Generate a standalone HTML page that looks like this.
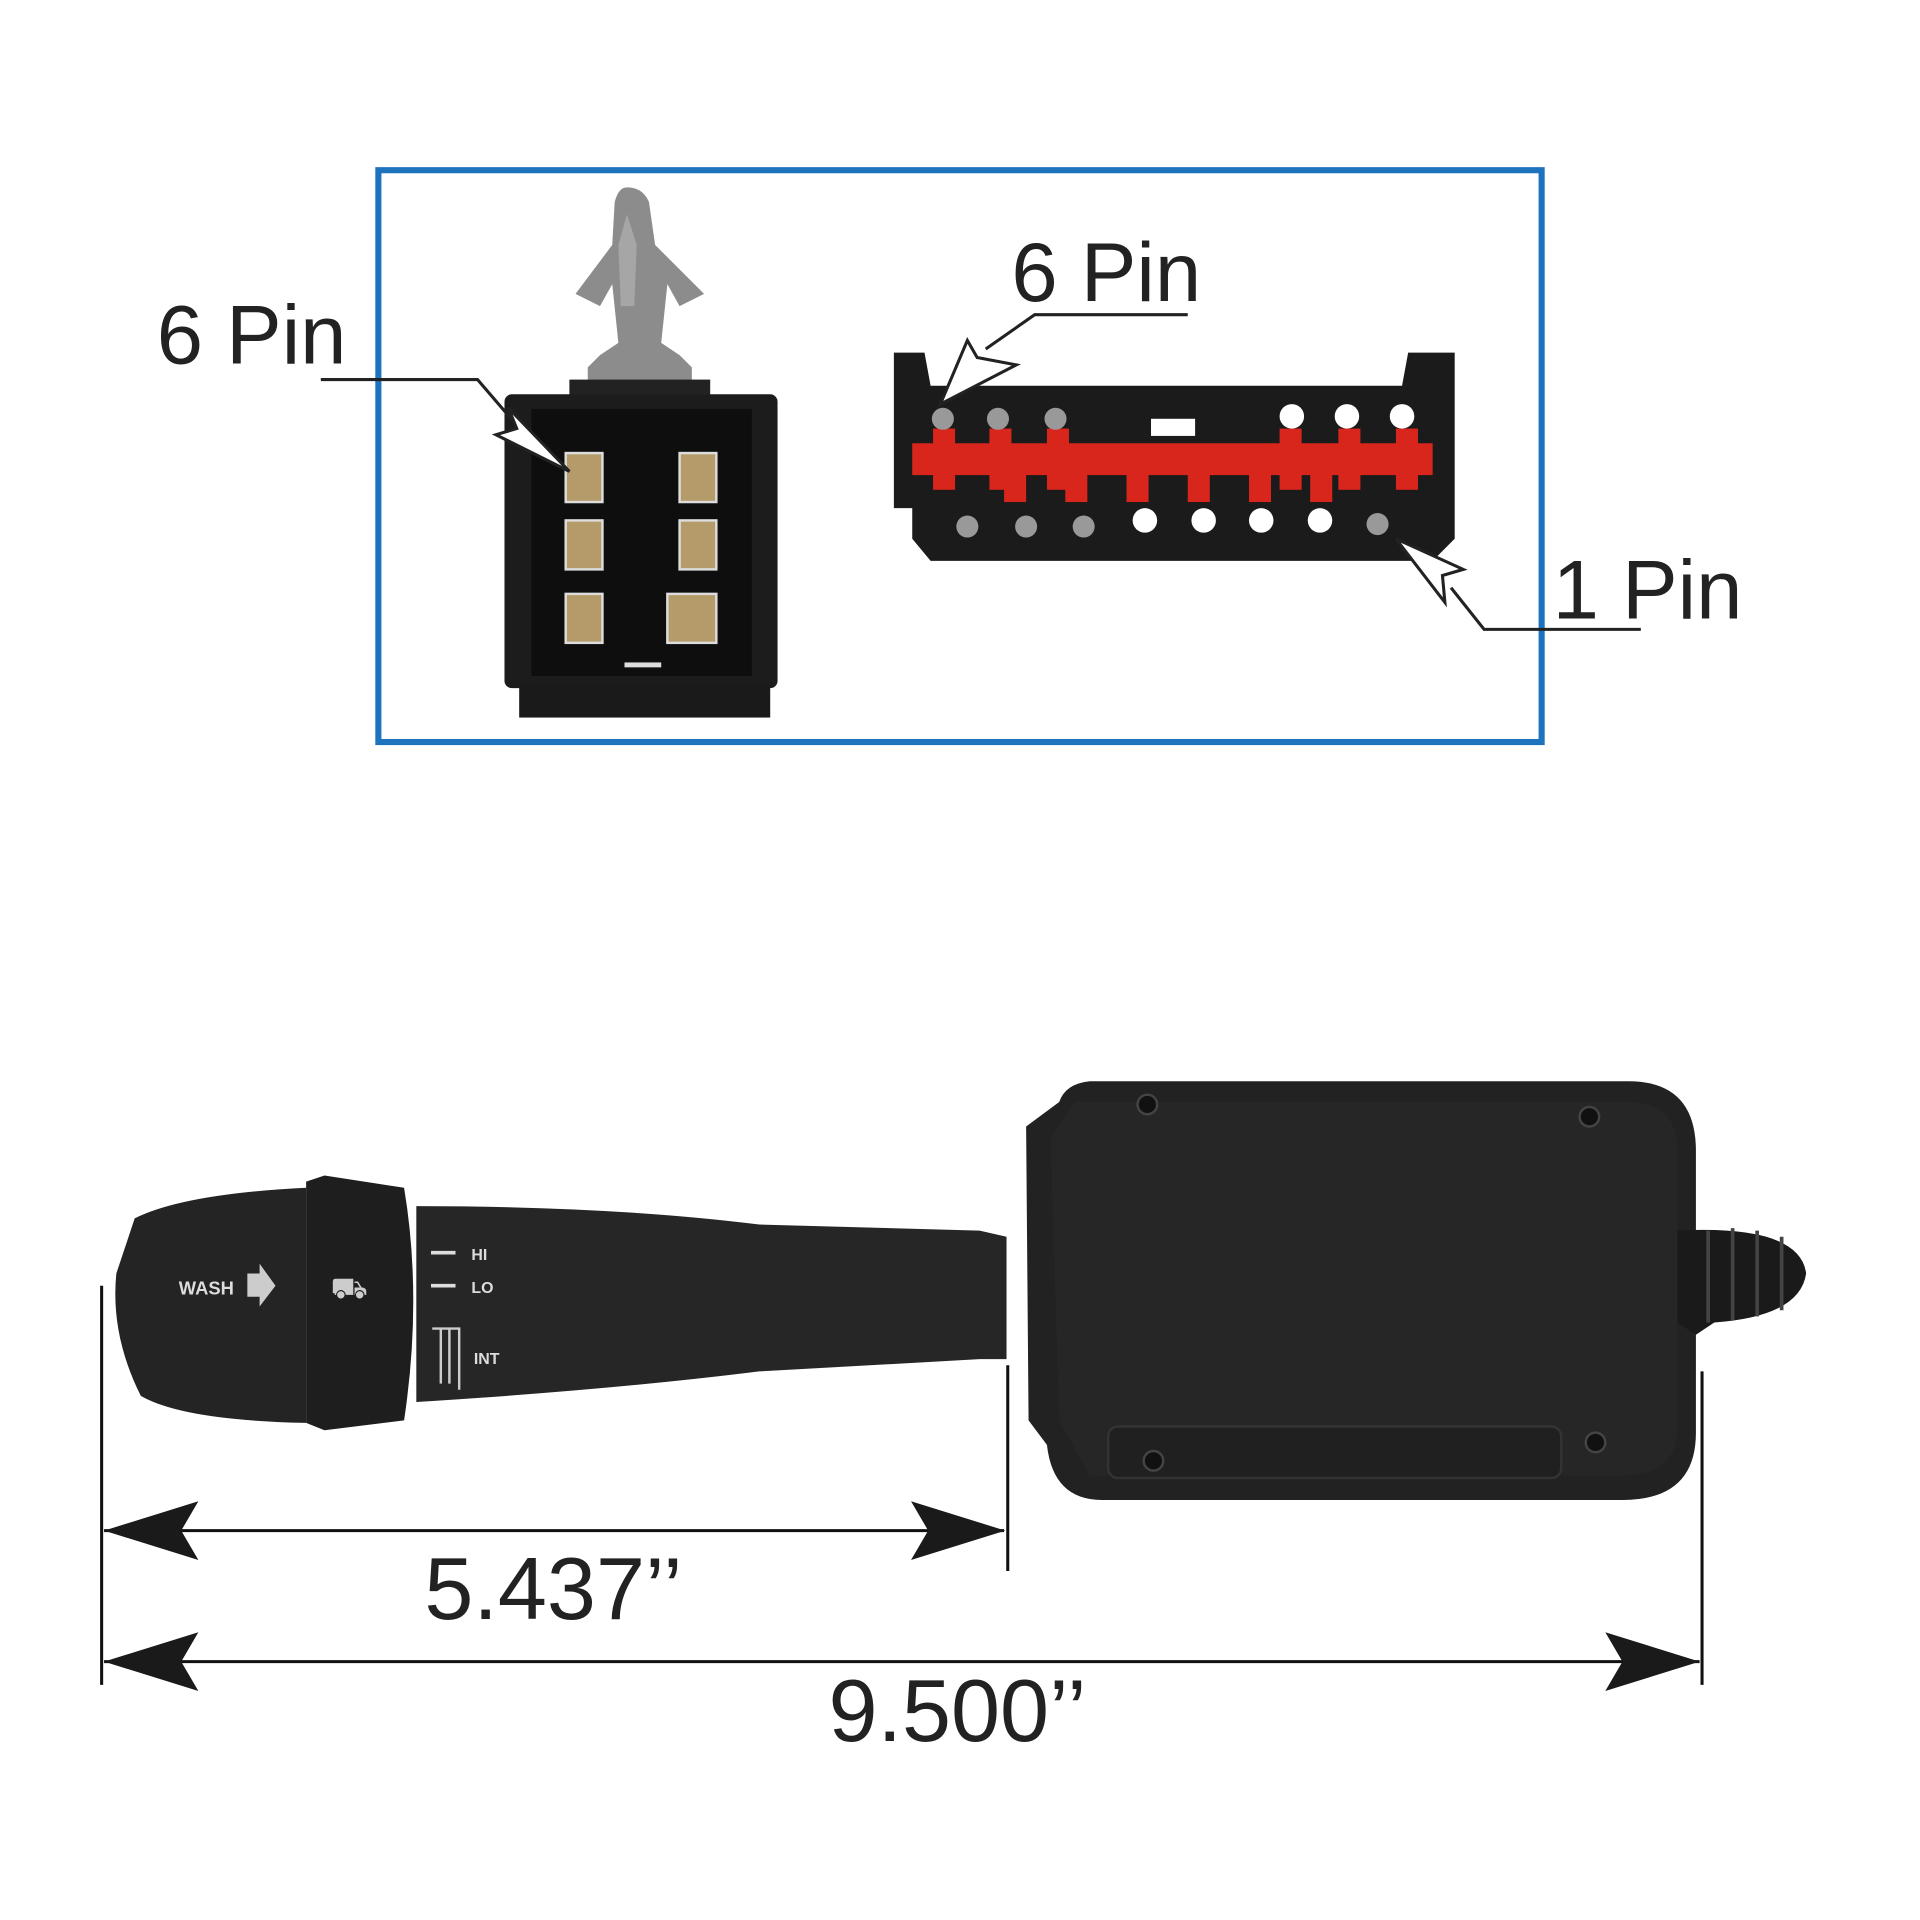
<!DOCTYPE html>
<html><head><style>html,body{margin:0;padding:0;background:#fff}svg{display:block}</style></head>
<body>
<svg width="1920" height="1920" viewBox="0 0 1568 1568" xmlns="http://www.w3.org/2000/svg" font-family="'Liberation Sans', sans-serif">
<rect width="1568" height="1568" fill="#fff"/>
<!-- blue frame -->
<rect x="309" y="139" width="950" height="467" fill="none" stroke="#1e73be" stroke-width="5"/>

<!-- left connector -->
<path d="M512 153 Q525 153 530 165 L535 200 L575 240 L555 250 L545 232 L540 280 L555 290 L565 300 L565 320 L480 320 L480 300 L490 290 L505 280 L500 232 L490 250 L470 240 L500 200 L502 165 Q505 153 512 153 Z" fill="#8c8c8c"/>
<path d="M512 175 L520 200 L518 250 L507 250 L505 200 Z" fill="#a6a6a6"/>
<rect x="465" y="310" width="115" height="25" fill="#222"/>
<rect x="412" y="322" width="223" height="240" rx="6" fill="#1c1c1c"/>
<rect x="424" y="560" width="205" height="26" fill="#1a1a1a"/>
<rect x="434" y="334" width="180" height="218" fill="#0e0e0e"/>
<g fill="#b59a6a" stroke="#ddd" stroke-width="2">
<rect x="462" y="370" width="30" height="40"/><rect x="555" y="370" width="30" height="40"/>
<rect x="462" y="425" width="30" height="40"/><rect x="555" y="425" width="30" height="40"/>
<rect x="462" y="485" width="30" height="40"/><rect x="545" y="485" width="40" height="40"/>
</g>
<rect x="510" y="541" width="30" height="4" fill="#ddd"/>

<!-- right connector -->
<path d="M730 288 L755 288 L760 315 L1145 315 L1150 288 L1188 288 L1188 440 L1170 458 L760 458 L745 440 L745 415 L730 415 Z" fill="#1b1b1b"/>
<rect x="940" y="342" width="36" height="14" fill="#fff"/>
<rect x="745" y="362" width="425" height="26" fill="#d9261c"/>
<g fill="#d9261c">
<rect x="762" y="350" width="18" height="50"/><rect x="808" y="350" width="18" height="50"/><rect x="855" y="350" width="18" height="50"/>
<rect x="1045" y="350" width="18" height="50"/><rect x="1093" y="350" width="18" height="50"/><rect x="1140" y="350" width="18" height="50"/>
<rect x="820" y="380" width="18" height="30"/><rect x="870" y="380" width="18" height="30"/><rect x="920" y="380" width="18" height="30"/><rect x="970" y="380" width="18" height="30"/><rect x="1020" y="380" width="18" height="30"/><rect x="1070" y="380" width="18" height="30"/>
</g>
<g fill="#fff">
<circle cx="1055" cy="340" r="10"/><circle cx="1100" cy="340" r="10"/><circle cx="1145" cy="340" r="10"/>
<circle cx="935" cy="425" r="10"/><circle cx="983" cy="425" r="10"/><circle cx="1030" cy="425" r="10"/><circle cx="1078" cy="425" r="10"/>
</g>
<g fill="#999"><circle cx="790" cy="430" r="9"/><circle cx="838" cy="430" r="9"/><circle cx="885" cy="430" r="9"/><circle cx="1125" cy="428" r="9"/><circle cx="770" cy="342" r="9"/><circle cx="815" cy="342" r="9"/><circle cx="862" cy="342" r="9"/></g>

<!-- labels & leaders -->
<g fill="#222" font-size="68">
<text x="128" y="297">6 Pin</text>
<text x="826" y="246">6 Pin</text>
<text x="1268" y="505">1 Pin</text>
</g>
<g fill="none" stroke="#222" stroke-width="2.5">
<polyline points="262,310 390,310 420,345"/>
<polyline points="970,257 845,257 805,285"/>
<polyline points="1340,514 1212,514 1185,480"/>
</g>
<g fill="#fff" stroke="#222" stroke-width="2.5">
<path d="M465 385 L405 355 L422 350 L415 333 Z"/>
<path d="M768 330 L790 278 L798 292 L830 298 Z"/>
<path d="M1140 440 L1195 465 L1178 470 L1180 492 Z"/>
</g>

<!-- switch -->
<path d="M865 900 Q870 885 890 883 L1330 883 Q1385 883 1385 940 L1385 1170 Q1385 1225 1325 1225 L900 1225 Q860 1225 855 1180 L840 1160 L838 920 Z" fill="#222"/>
<path d="M878 900 L1330 900 Q1370 900 1370 940 L1370 1165 Q1370 1205 1325 1205 L890 1205 L865 1160 L858 930 Z" fill="#262626"/>
<rect x="905" y="1165" width="370" height="42" rx="8" fill="#202020" stroke="#333" stroke-width="2"/>
<g fill="#111" stroke="#444" stroke-width="2">
<circle cx="937" cy="902" r="8"/><circle cx="1298" cy="912" r="8"/><circle cx="942" cy="1193" r="8"/><circle cx="1303" cy="1178" r="8"/>
</g>
<path d="M1370 1005 Q1470 1000 1475 1040 Q1470 1075 1400 1080 L1385 1090 L1370 1080 Z" fill="#1a1a1a"/>
<g stroke="#444" stroke-width="3"><line x1="1395" y1="1005" x2="1395" y2="1080"/><line x1="1415" y1="1003" x2="1415" y2="1078"/><line x1="1435" y1="1005" x2="1435" y2="1075"/><line x1="1455" y1="1010" x2="1455" y2="1070"/></g>
<path d="M340 985 Q500 985 620 1000 L800 1005 L822 1010 L822 1110 L800 1110 L620 1120 Q500 1135 340 1145 Z" fill="#262626"/>
<path d="M250 965 L265 960 L330 970 Q345 1060 330 1160 L265 1168 L250 1162 Z" fill="#1e1e1e"/>
<path d="M110 995 Q150 975 250 970 L250 1162 Q150 1160 115 1140 Q90 1090 95 1040 Z" fill="#242424"/>
<text x="146" y="1057" fill="#ddd" font-size="15" font-weight="bold">WASH</text>
<path d="M202 1040 L212 1040 L212 1032 L225 1050 L212 1067 L212 1059 L202 1059 Z" fill="#ccc"/>
<text x="270" y="1060" fill="#ccc" font-size="24">⛟</text>
<g fill="#ddd" font-size="13" font-weight="bold"><text x="385" y="1029">HI</text><text x="385" y="1056">LO</text><text x="387" y="1114">INT</text></g>
<g stroke="#ddd" stroke-width="3"><line x1="352" y1="1023" x2="372" y2="1023"/><line x1="352" y1="1050" x2="372" y2="1050"/></g>
<path d="M353 1085 L375 1085 L375 1135 M360 1085 L360 1130 M367 1085 L367 1130" fill="none" stroke="#ccc" stroke-width="2"/>

<!-- dimensions -->
<g stroke="#111" stroke-width="2.5" fill="none">
<line x1="83" y1="1050" x2="83" y2="1376"/>
<line x1="823" y1="1115" x2="823" y2="1283"/>
<line x1="1390" y1="1120" x2="1390" y2="1376"/>
<line x1="85" y1="1250" x2="820" y2="1250"/>
<line x1="85" y1="1357" x2="1388" y2="1357"/>
</g>
<g fill="#1a1a1a">
<path d="M85 1250 L162 1226 L148 1250 L162 1274 Z"/>
<path d="M821 1250 L744 1226 L758 1250 L744 1274 Z"/>
<path d="M85 1357 L162 1333 L148 1357 L162 1381 Z"/>
<path d="M1388 1357 L1311 1333 L1325 1357 L1311 1381 Z"/>
</g>
<g fill="#222" font-size="72" text-anchor="middle">
<text x="452" y="1322">5.437’’</text>
<text x="782" y="1422">9.500’’</text>
</g>
</svg>
</body></html>
